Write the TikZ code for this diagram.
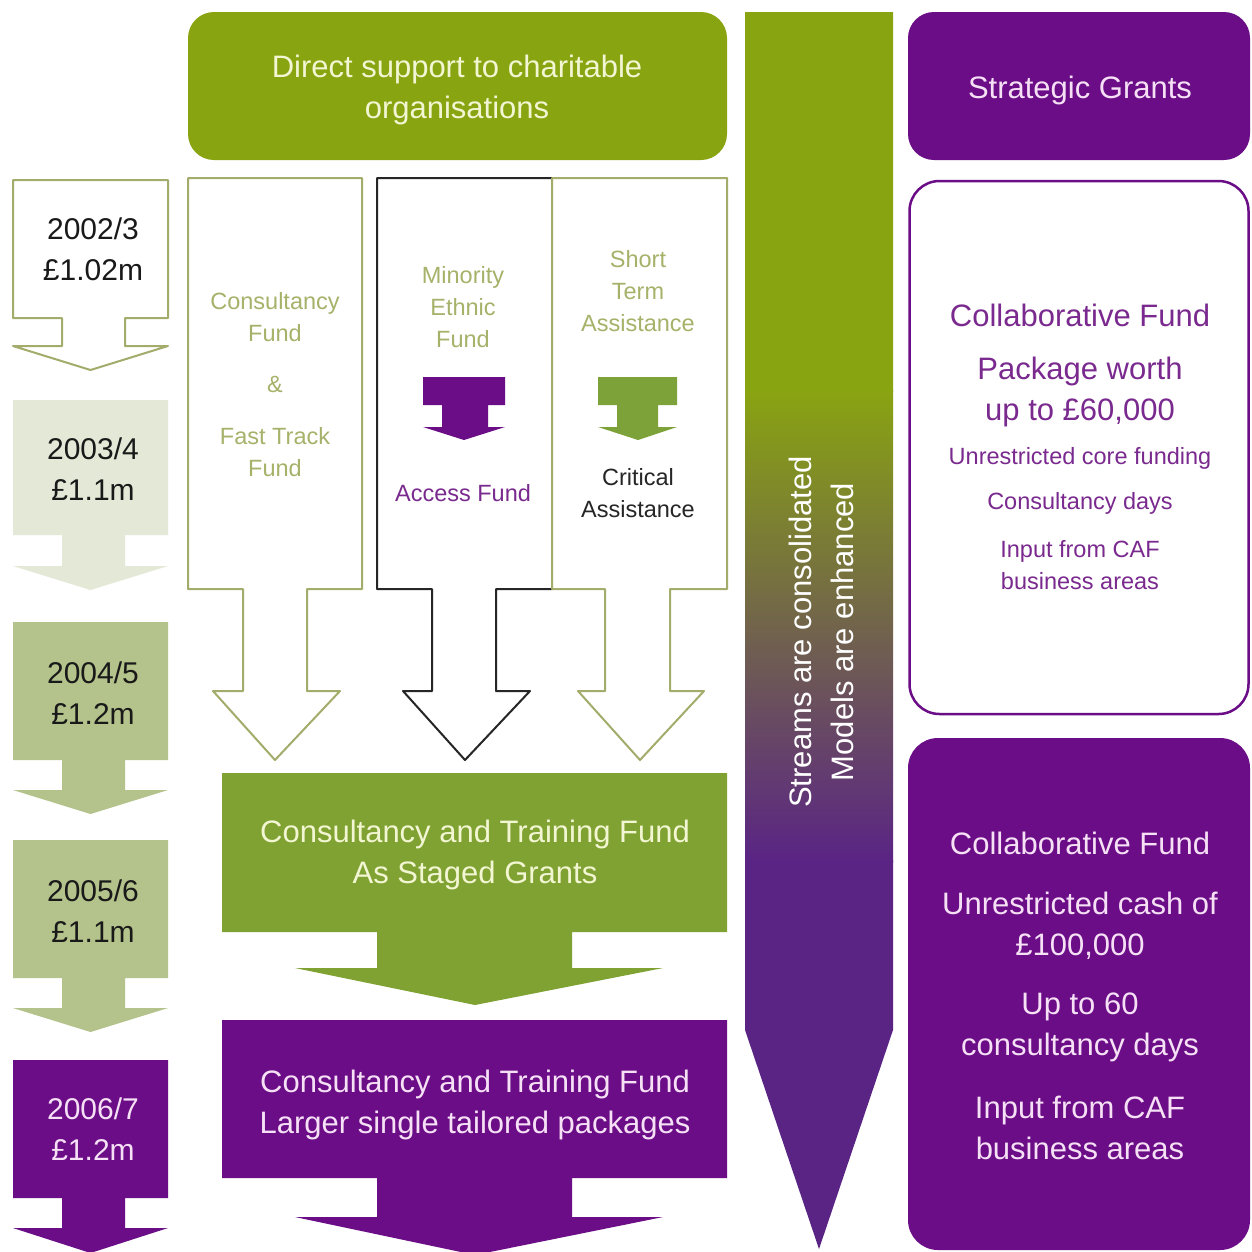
\documentclass[tikz,border=0pt]{standalone}
\usepackage{fontspec}
\setmainfont{Liberation Sans}
\definecolor{bgreen}{HTML}{89A411}
\definecolor{mgreen}{HTML}{80A232}
\definecolor{sgreen}{HTML}{7EA23A}
\definecolor{pale}{HTML}{E3E9D6}
\definecolor{olivefill}{HTML}{B4C38B}
\definecolor{oline}{HTML}{A3AC6A}
\definecolor{otext}{HTML}{A6B26A}
\definecolor{purp}{HTML}{6B0D86}
\definecolor{apurp}{HTML}{5A2485}
\definecolor{ptext}{HTML}{7A2A8E}
\definecolor{cream}{HTML}{F2F6D2}
\definecolor{pinkw}{HTML}{F6E0F6}
\newcommand{\yarrow}[5]{%
  \path[#1] (13,#2) -- (168,#2) -- (168,#3) -- (125,#3) -- (125,#4) -- (168,#4) -- (90.5,#5)
    -- (13,#4) -- (62,#4) -- (62,#3) -- (13,#3) -- cycle;}
\newcommand{\colarr}[8]{%
  \path[#1] (#2,178) -- (#3,178) -- (#3,589) -- (#5,589) -- (#5,691) -- (#7,691) -- (#8,760)
    -- (#6,691) -- (#4,691) -- (#4,589) -- (#2,589) -- cycle;}
\newcommand{\smallarr}[6]{%
  \path[#1] (#2,377) -- (#3,377) -- (#3,405) -- (#5,405) -- (#5,427) -- (#3,427) -- (#6,440)
    -- (#2,427) -- (#4,427) -- (#4,405) -- (#2,405) -- cycle;}
\newcommand{\bigarr}[5]{%
  \path[#1] (222,#2) -- (727,#2) -- (727,#3) -- (572,#3) -- (572,#4) -- (663,#4) -- (475,#5)
    -- (295,#4) -- (377,#4) -- (377,#3) -- (222,#3) -- cycle;}
\begin{document}
\begin{tikzpicture}[x=1pt,y=-1pt,
  big/.style={font=\fontsize{31}{41}\selectfont, align=center, inner sep=0pt},
  small/.style={font=\fontsize{23.5}{32}\selectfont, align=center, inner sep=0pt},
  yeartxt/.style={font=\fontsize{30}{41}\selectfont, align=center, inner sep=0pt},
  outl/.style={draw=oline, line width=2pt, fill=white, line join=round},
  outk/.style={draw=black!85, line width=2pt, fill=white, line join=round}]
\useasboundingbox (0,0) rectangle (1252,1251);
\fill[white] (0,0) rectangle (1252,1251);
\begin{scope}
\clip (0,0) rectangle (1252,1251);
% ---------- left: year arrows ----------
\yarrow{outl}{180}{318}{346}{370}
\yarrow{fill=pale}{400}{535}{566}{590}
\yarrow{fill=olivefill}{622}{760}{790}{814}
\yarrow{fill=olivefill}{840}{978}{1008}{1032}
\yarrow{fill=purp}{1060}{1198}{1228}{1253}
\node[yeartxt, text=black!90] (y1) at (93,249) {2002/3\\£1.02m};
\node[yeartxt, text=black!90] (y2) at (93,469) {2003/4\\£1.1m};
\node[yeartxt, text=black!90] (y3) at (93,693) {2004/5\\£1.2m};
\node[yeartxt, text=black!90] (y4) at (93,911) {2005/6\\£1.1m};
\node[yeartxt, text=pinkw] (y5) at (93,1129) {2006/7\\£1.2m};
% ---------- top banner ----------
\fill[bgreen, rounded corners=26] (188,12) rectangle (727,160);
\node[big, text=cream] (banner) at (457,90) {Direct support to charitable\\organisations};
% ---------- three stream columns ----------
\colarr{outk}{377}{552}{432}{496}{403}{530}{465}
\colarr{outl}{188}{362}{243}{307}{213}{340}{275}
\colarr{outl}{552}{727}{605}{670}{578}{704}{640}
\node[small, text=otext] (cf) at (275,317) {Consultancy\\Fund};
\node[small, text=otext] (amp) at (275,384) {\&};
\node[small, text=otext] (ft) at (275,452) {Fast Track\\Fund};
\node[small, text=otext] (me) at (463,307) {Minority\\Ethnic\\Fund};
\smallarr{fill=purp}{423}{505}{442}{488}{464}
\node[small, text=ptext] (af) at (463,493) {Access Fund};
\node[small, text=otext] (st) at (638,291) {Short\\Term\\Assistance};
\smallarr{fill=sgreen}{598}{677}{617}{658}{638}
\node[small, text=black!85] (ca) at (638,493) {Critical\\Assistance};
% ---------- consolidated boxes ----------
\bigarr{fill=mgreen}{773}{932}{968}{1005}
\node[big, text=cream] (ctf1) at (475,855) {Consultancy and Training Fund\\As Staged Grants};
\bigarr{fill=purp}{1020}{1178}{1217}{1255}
\node[big, text=pinkw] (ctf2) at (475,1105) {Consultancy and Training Fund\\Larger single tailored packages};
% ---------- middle gradient arrow ----------
\begin{scope}
\clip (745,12) -- (893,12) -- (893,1030) -- (819,1249) -- (745,1030) -- cycle;
\fill[bgreen] (740,8) rectangle (898,392);
\shade[top color=bgreen, bottom color=apurp] (740,390) rectangle (898,862);
\fill[apurp] (740,860) rectangle (898,1255);
\end{scope}
\node[big, text=white, rotate=90] (streams) at (800,632) {Streams are consolidated};
\node[big, text=white, rotate=90] (models) at (842,632) {Models are enhanced};
% ---------- right column ----------
\fill[purp, rounded corners=26] (908,12) rectangle (1250,160);
\node[big, text=pinkw] (sg) at (1080,90) {Strategic Grants};
\draw[purp, line width=2.5pt, rounded corners=30] (909.5,181) rectangle (1248.5,714);
\node[big, text=ptext] (cf1) at (1080,315) {Collaborative Fund};
\node[big, text=ptext] (pw) at (1080,392) {Package worth\\up to £60,000};
\node[small, text=ptext] (ucf) at (1080,458) {Unrestricted core funding};
\node[small, text=ptext] (cd) at (1080,503) {Consultancy days};
\node[small, text=ptext] (ic1) at (1080,565) {Input from CAF\\business areas};
\fill[purp, rounded corners=30] (908,738) rectangle (1250,1250);
\node[big, text=pinkw] (cf2) at (1080,843) {Collaborative Fund};
\node[big, text=pinkw] (uc) at (1080,926) {Unrestricted cash of\\£100,000};
\node[big, text=pinkw] (ut) at (1080,1027) {Up to 60\\consultancy days};
\node[big, text=pinkw] (ic2) at (1080,1128) {Input from CAF\\business areas};
\end{scope}
\end{tikzpicture}
\end{document}
